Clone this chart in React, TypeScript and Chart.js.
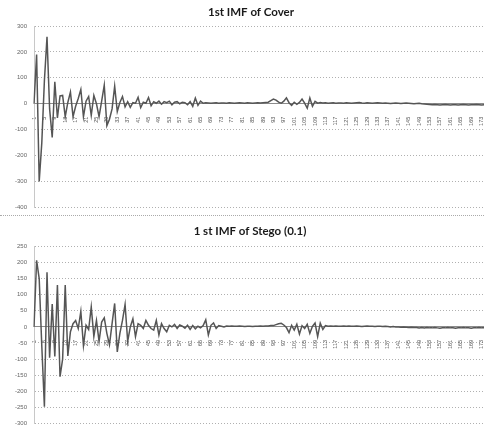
import React, { useEffect, useRef } from "react";
import { Chart, registerables } from "chart.js";
Chart.register(...registerables);

const N = 176;
const categories: string[] = Array.from({ length: N }, (_, i) => String(i + 1));

const coverTitle = "1st IMF of Cover";
const stegoTitle = "1 st IMF of Stego (0.1)";

const coverValues = [
  0, 190, -300, -150, 90, 258, -20, -130, 85, -55,
  30, 32, -50, 5, 45, -50, -10, 20, 55, -50,
  10, 28, -45, 32, 0, -50, 10, 72, -85, -60,
  -20, 68, -30, 5, 28, -12, 8, -14, 4, 2,
  25, -15, 6, 2, 24, -8, 8, 2, 10, -2,
  8, 4, 10, -4, 6, 8, 0, 6, 4, -4,
  8, -10, 22, -6, 10, 2, 4, 3, 2, 3,
  4, 2, 3, 3, 2, 4, 3, 2, 3, 4,
  3, 2, 4, 3, 2, 3, 4, 3, 4, 5,
  6, 12, 18, 14, 6, 2, 10, 23, 4, -6,
  6, -2, 5, 18, 2, -17, 22, -10, 9, 2,
  5, 3, 4, 2, 3, 4, 2, 3, 3, 2,
  4, 3, 2, 3, 4, 5, 3, 2, 4, 3,
  2, 3, 4, 3, 2, 3, 2, 1, 2, 3,
  2, 1, 2, 3, 2, 1, 0, 1, 2, 0,
  -1, -2, -3, -4, -3, -4, -5, -4, -3, -4,
  -5, -4, -4, -5, -4, -3, -4, -5, -4, -4,
  -3, -4, -5, -4, -4, -3,
];

const stegoValues = [
  0, 207, 150, -60, -248, 170, -96, 71, -92, 130,
  -155, -100, 130, -90, -15, 10, 20, -5, 48, -58,
  5, -8, 62, -30, 20, -45, 15, 28, -20, -55,
  10, 73, -78, -20, 20, 70, -45, 0, 25, -30,
  10, 5, -5, 20, 5, -5, -10, 20, -25, 10,
  -5, -15, 5, 0, 8, -5, 6, 2, -4, 5,
  -8, 4, -6, 2, -3, 4, 22, -25, 5, 12,
  -5, 4, 2, 0, 3, 2, 3, 2, 2, 3,
  2, 1, 2, 2, 1, 2, 2, 3, 2, 3,
  3, 4, 4, 7, 10, 11, 6, -2, -18, 5,
  -10, 8, -22, 4, -5, 8, -20, 2, 12, -30,
  12, -8, 4, 2, 3, 2, 3, 2, 2, 3,
  2, 3, 2, 2, 3, 2, 1, 2, 3, 2,
  2, 1, 2, 2, 1, 2, 1, 0, 1, 0,
  0, -1, 0, -1, -2, -1, -2, -2, -3, -2,
  -3, -2, -3, -3, -2, -3, -4, -3, -3, -2,
  -3, -3, -4, -3, -3, -2, -3, -3, -4, -3,
  -3, -2, -3, -3, -2, -3,
];

const coverYMin = -400, coverYMax = 300, coverYStep = 100;
const stegoYMin = -300, stegoYMax = 250, stegoYStep = 50;

function titlePlugin(text: string, x: number, y: number) {
  return {
    id: "customTitle",
    afterDraw(chart: any) {
      const ctx = chart.ctx;
      ctx.save();
      ctx.font = "bold 11.5px Lato";
      ctx.fillStyle = "#1a1a1a";
      ctx.textAlign = "center";
      ctx.textBaseline = "middle";
      ctx.fillText(text, x, y);
      ctx.restore();
    },
  };
}

type Props = {
  values: number[];
  min: number;
  max: number;
  step: number;
  title: string;
  titleX: number;
  titleY: number;
  padTop: number;
  height: number;
  top: number;
};

function IMFChart(p: Props) {
  const ref = useRef<HTMLCanvasElement>(null);
  useEffect(() => {
    const chart = new Chart(ref.current as HTMLCanvasElement, {
      type: "line",
      data: {
        labels: categories,
        datasets: [
          {
            data: p.values,
            borderColor: "#555555",
            borderWidth: 1.5,
            pointRadius: 0,
            tension: 0,
            fill: false,
          },
        ],
      },
      options: {
        responsive: false,
        animation: false,
        layout: { padding: { top: p.padTop, bottom: 0, left: 0, right: 0 } },
        plugins: {
          legend: { display: false },
          tooltip: { enabled: false },
          title: { display: false },
        },
        scales: {
          x: {
            type: "category",
            position: { y: 0 } as any,
            grid: { display: false },
            border: { display: true, color: "#8c8c8c", width: 1 },
            ticks: {
              autoSkip: false,
              minRotation: 90,
              maxRotation: 90,
              padding: 5,
              color: "#555",
              font: { size: 5.5, family: "Liberation Sans" },
              callback: (_v: any, i: number) => (i % 4 === 0 ? categories[i] : ""),
            },
          },
          y: {
            min: p.min,
            max: p.max,
            afterFit: (s: any) => {
              s.width = 34;
            },
            ticks: {
              stepSize: p.step,
              padding: 7,
              color: "#666",
              font: { size: 6, family: "Liberation Sans" },
            },
            grid: { color: "#b0b0b0", lineWidth: 1, drawTicks: false },
            border: { display: true, color: "#c8c8c8", dash: [1, 2] },
          },
        },
      } as any,
      plugins: [titlePlugin(p.title, p.titleX, p.titleY)],
    });
    return () => chart.destroy();
  }, []);
  return (
    <canvas
      ref={ref}
      width={501}
      height={p.height}
      style={{ position: "absolute", left: 0, top: p.top, width: 501, height: p.height }}
    />
  );
}

export default function App() {
  return (
    <div
      style={{
        position: "fixed",
        left: 0,
        top: 0,
        width: 484,
        height: 428,
        overflow: "hidden",
        background: "#fff",
      }}
    >
      <IMFChart
        values={coverValues}
        min={coverYMin}
        max={coverYMax}
        step={coverYStep}
        title={coverTitle}
        titleX={251}
        titleY={12}
        padTop={26}
        height={218}
        top={0}
      />
      <div
        style={{
          position: "absolute",
          left: 0,
          top: 215,
          width: 484,
          height: 0,
          borderTop: "1px dotted #aaa",
        }}
      />
      <IMFChart
        values={stegoValues}
        min={stegoYMin}
        max={stegoYMax}
        step={stegoYStep}
        title={stegoTitle}
        titleX={250}
        titleY={16}
        padTop={31.5}
        height={219}
        top={215}
      />
    </div>
  );
}
